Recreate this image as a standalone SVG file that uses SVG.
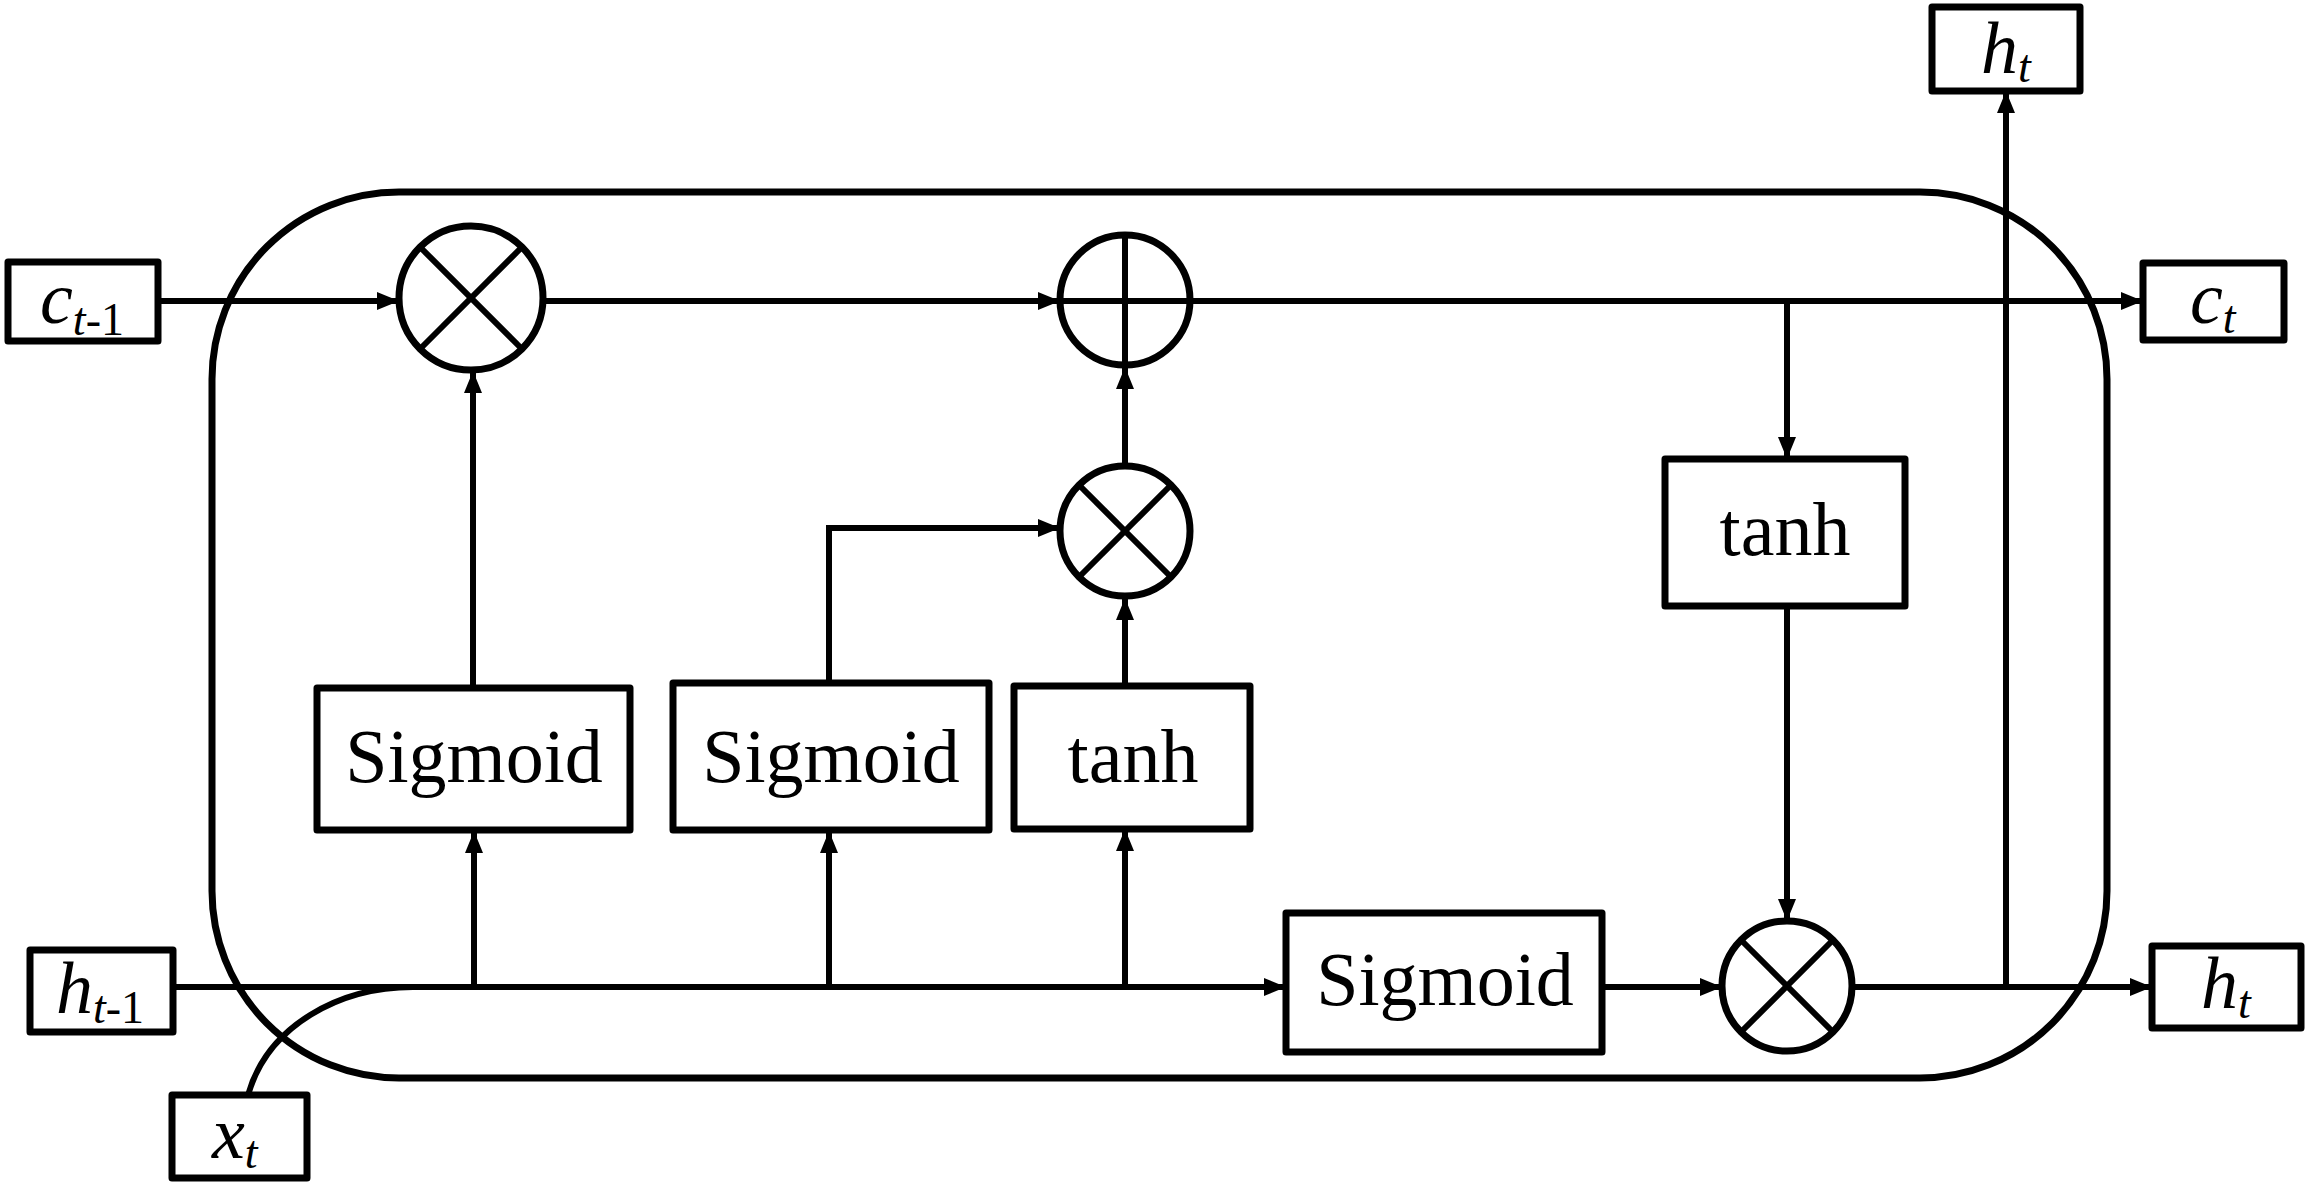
<svg xmlns="http://www.w3.org/2000/svg" width="2311" height="1187" viewBox="0 0 2311 1187">
<defs>
<marker id="arr" markerUnits="userSpaceOnUse" markerWidth="22" markerHeight="18" refX="22" refY="9" orient="auto">
<path d="M0,0 L22,9 L0,18 z" fill="#000"/>
</marker>
<style>
.box{fill:#fff;stroke:#000;stroke-width:7;stroke-linejoin:round}
.op{fill:#fff;stroke:#000;stroke-width:7}
.sym{stroke:#000;stroke-width:6;fill:none}
.ln{stroke:#000;stroke-width:6;fill:none}
.arw{stroke:#000;stroke-width:6;fill:none;marker-end:url(#arr)}
.lbl{font-family:"Liberation Serif","Times New Roman",serif;font-size:76px;fill:#000;text-anchor:middle}
.var{font-family:"Liberation Serif","Times New Roman",serif;font-size:74px;fill:#000}
.it{font-style:italic}
.sub{font-size:46px}
</style>
</defs>
<rect width="2311" height="1187" fill="#fff"/>

<g id="cell">
<rect x="212" y="192" width="1895" height="886" rx="187" ry="187" fill="none" stroke="#000" stroke-width="7"/>
</g>

<g id="connectors">
<line class="arw" x1="158" y1="301" x2="399" y2="301"/>
<line class="arw" x1="543" y1="301" x2="1060" y2="301"/>
<line class="arw" x1="1190" y1="301" x2="2143" y2="301"/>
<line class="arw" x1="1787" y1="301" x2="1787" y2="459"/>
<line class="arw" x1="1787" y1="606" x2="1787" y2="921"/>
<line class="arw" x1="1602" y1="987" x2="1722" y2="987"/>
<line class="arw" x1="1852" y1="987" x2="2152" y2="987"/>
<line class="arw" x1="2006" y1="987" x2="2006" y2="91"/>
<line class="arw" x1="173" y1="987" x2="1286" y2="987"/>
<path class="ln" d="M248,1095 C268,1025 340,987 413,987"/>
<line class="arw" x1="474" y1="987" x2="474" y2="831"/>
<line class="arw" x1="829" y1="987" x2="829" y2="831"/>
<line class="arw" x1="1125" y1="987" x2="1125" y2="829"/>
<line class="arw" x1="473" y1="688" x2="473" y2="371"/>
<path class="arw" d="M829,683 L829,528 L1060,528"/>
<line class="arw" x1="1125" y1="686" x2="1125" y2="598"/>
<line class="arw" x1="1125" y1="466" x2="1125" y2="367"/>
</g>

<g id="c_prev">
<rect class="box" x="8" y="262" width="150" height="79"/>
<text class="var" x="40" y="323"><tspan class="it">c</tspan><tspan class="sub it" dy="12">t</tspan><tspan class="sub">-1</tspan></text>
</g>
<g id="h_prev">
<rect class="box" x="30" y="950" width="143" height="82"/>
<text class="var" x="56" y="1013"><tspan class="it">h</tspan><tspan class="sub it" dy="10">t</tspan><tspan class="sub">-1</tspan></text>
</g>
<g id="x_t">
<rect class="box" x="172" y="1095" width="135" height="83"/>
<text class="var" x="212" y="1158"><tspan class="it">x</tspan><tspan class="sub it" dy="10">t</tspan></text>
</g>
<g id="h_t_top">
<rect class="box" x="1932" y="7" width="148" height="84"/>
<text class="var" x="1981" y="73"><tspan class="it">h</tspan><tspan class="sub it" dy="9">t</tspan></text>
</g>
<g id="c_t">
<rect class="box" x="2143" y="263" width="141" height="77"/>
<text class="var" x="2190" y="323"><tspan class="it">c</tspan><tspan class="sub it" dy="10">t</tspan></text>
</g>
<g id="h_t_right">
<rect class="box" x="2152" y="946" width="149" height="82"/>
<text class="var" x="2201" y="1008"><tspan class="it">h</tspan><tspan class="sub it" dy="10">t</tspan></text>
</g>

<g id="forget_mul">
<circle class="op" cx="471" cy="298" r="72"/>
<line class="sym" x1="420" y1="247" x2="522" y2="349"/>
<line class="sym" x1="522" y1="247" x2="420" y2="349"/>
</g>
<g id="add">
<circle class="op" cx="1125" cy="300" r="65"/>
<line class="sym" x1="1060" y1="301" x2="1190" y2="301"/>
<line class="sym" x1="1125" y1="235" x2="1125" y2="365"/>
</g>
<g id="input_mul">
<circle class="op" cx="1125" cy="531" r="65"/>
<line class="sym" x1="1079" y1="485" x2="1171" y2="577"/>
<line class="sym" x1="1171" y1="485" x2="1079" y2="577"/>
</g>
<g id="output_mul">
<circle class="op" cx="1787" cy="986" r="65"/>
<line class="sym" x1="1741" y1="940" x2="1833" y2="1032"/>
<line class="sym" x1="1833" y1="940" x2="1741" y2="1032"/>
</g>

<g id="sigmoid_forget">
<rect class="box" x="317" y="688" width="313" height="142"/>
<text class="lbl" x="474" y="782">Sigmoid</text>
</g>
<g id="sigmoid_input">
<rect class="box" x="673" y="683" width="316" height="147"/>
<text class="lbl" x="831" y="782">Sigmoid</text>
</g>
<g id="tanh_input">
<rect class="box" x="1014" y="686" width="236" height="143"/>
<text class="lbl" x="1133" y="782">tanh</text>
</g>
<g id="sigmoid_output">
<rect class="box" x="1286" y="913" width="316" height="139"/>
<text class="lbl" x="1445" y="1005">Sigmoid</text>
</g>
<g id="tanh_cell">
<rect class="box" x="1665" y="459" width="240" height="147"/>
<text class="lbl" x="1785" y="555">tanh</text>
</g>
</svg>
